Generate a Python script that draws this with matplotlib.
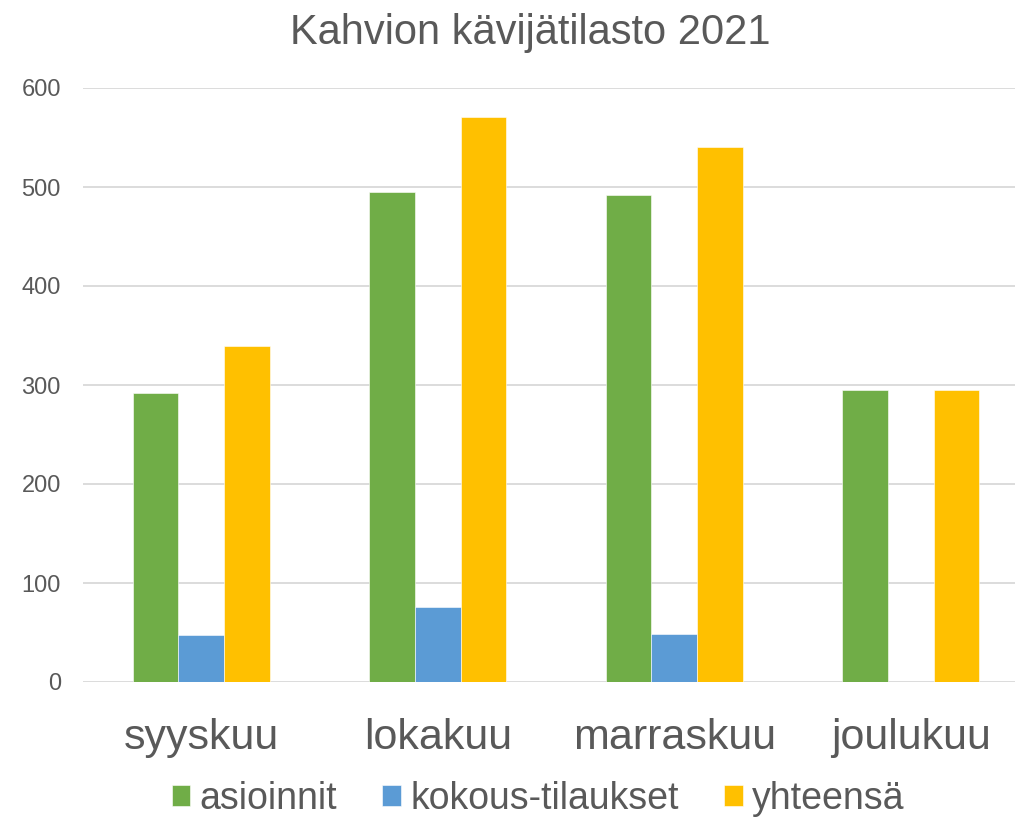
import numpy as np
import matplotlib
matplotlib.use("Agg")
import matplotlib.pyplot as plt

plt.rcParams['font.family'] = ['Liberation Sans', 'DejaVu Sans']

kuukaudet = ["syyskuu", "lokakuu", "marraskuu", "joulukuu"]
asioinnit = [292, 495, 492, 295]
kokous_tilaukset = [47, 76, 48, 0]
yhteensa = [339, 571, 540, 295]
sarjat = ["asioinnit", "kokous-tilaukset", "yhteensä"]
varit = ["#70AD47", "#5B9BD5", "#FFC000"]
y_ticks = [0, 100, 200, 300, 400, 500, 600]

harmaa = "#595959"

fig = plt.figure(figsize=(10.15, 8.19), dpi=100)
ax = fig.add_axes([83 / 1015, 1 - 682 / 819, 946 / 1015, 594 / 819])

x = np.arange(len(kuukaudet))
w = 0.1925
for i, (arvot, nimi, vari) in enumerate(zip([asioinnit, kokous_tilaukset, yhteensa], sarjat, varit)):
    ax.bar(x + (i - 1) * w, arvot, width=w, color=vari, label=nimi, zorder=3,
           edgecolor="white", linewidth=0.4)

ax.set_xlim(-0.5, 3.5)
ax.set_ylim(0, 600)
ax.set_yticks(y_ticks)
ax.set_xticks(x)
ax.set_xticklabels(kuukaudet, fontsize=31, color=harmaa)
ax.tick_params(axis='y', labelsize=17, labelcolor=harmaa, length=0, pad=16)
ax.tick_params(axis='x', length=0, pad=26)
ax.grid(axis='y', color="#D9D9D9", linewidth=1.3, zorder=0)
ax.set_axisbelow(True)
for s in ax.spines.values():
    s.set_visible(False)

fig.text(530 / 1015, 1 - 33 / 819, "Kahvion kävijätilasto 2021", fontsize=30,
         color=harmaa, ha='center', va='center')

fig.legend(loc='center', bbox_to_anchor=(538 / 1015, 1 - 799 / 819), ncol=3,
           frameon=False, fontsize=27, labelcolor=harmaa, handlelength=0.5,
           handleheight=0.5, handletextpad=0.25, columnspacing=1.2)

fig.savefig("out.png", dpi=100)
